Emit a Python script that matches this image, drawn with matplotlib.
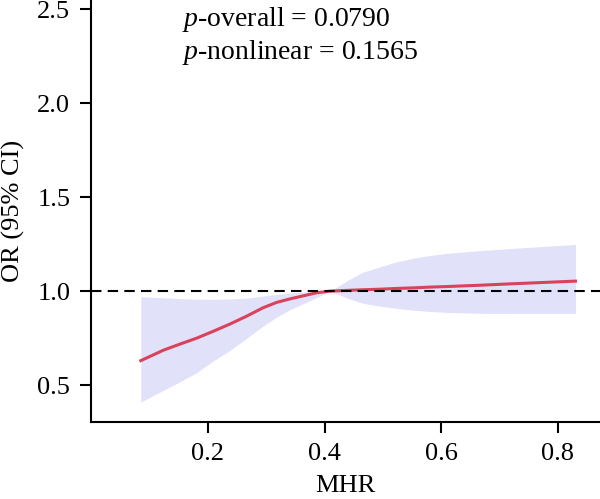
import matplotlib.pyplot as plt

plt.rcParams['font.family'] = 'Liberation Serif'
plt.rcParams['mathtext.fontset'] = 'custom'
plt.rcParams['mathtext.it'] = 'Liberation Serif:italic'
plt.rcParams['mathtext.rm'] = 'Liberation Serif'

# spline estimate
mhr = [0.085, 0.124, 0.152, 0.181, 0.209, 0.238, 0.266, 0.295, 0.318, 0.340, 0.386, 0.410,
       0.440, 0.465, 0.494, 0.523, 0.551, 0.579, 0.608, 0.665, 0.722, 0.830]
odds = [0.630, 0.686, 0.718, 0.750, 0.786, 0.825, 0.866, 0.912, 0.940, 0.958, 0.991, 1.000,
        1.004, 1.007, 1.010, 1.014, 1.017, 1.021, 1.024, 1.031, 1.039, 1.053]
lower = [0.410, 0.473, 0.518, 0.567, 0.628, 0.685, 0.748, 0.815, 0.862, 0.900, 0.965, 1.000,
         0.961, 0.936, 0.920, 0.908, 0.899, 0.892, 0.887, 0.882, 0.881, 0.881]
upper = [0.970, 0.964, 0.960, 0.957, 0.956, 0.958, 0.962, 0.974, 0.983, 0.990, 0.998, 1.000,
         1.058, 1.100, 1.128, 1.155, 1.174, 1.189, 1.200, 1.215, 1.227, 1.248]

xticks = [0.2, 0.4, 0.6, 0.8]
yticks = [0.5, 1.0, 1.5, 2.0, 2.5]
p_overall = '0.0790'
p_nonlinear = '0.1565'

fig = plt.figure(figsize=(6, 4.99), dpi=100)
ax = fig.add_axes([0.152, 0.154, 0.848, 0.846])

ax.fill_between(mhr, lower, upper, color='#e1e1fa', linewidth=0)
ax.plot(mhr, odds, color='#d9425a', linewidth=2.2)
ax.axhline(1.0, color='black', linestyle=(0, (5, 3)), linewidth=1.5)

ax.set_xlim(0.0, 0.872)
ax.set_ylim(0.303, 2.548)
ax.set_xticks(xticks)
ax.set_yticks(yticks)
ax.set_xticklabels([f'{t:.1f}' for t in xticks])
ax.set_yticklabels([f'{t:.1f}' for t in yticks])

for side in ['top', 'right']:
    ax.spines[side].set_visible(False)
for side in ['left', 'bottom']:
    ax.spines[side].set_linewidth(1.5)
ax.tick_params(direction='out', length=8, width=1.5, labelsize=19, pad=7)

ax.set_xlabel('MHR', fontsize=19, labelpad=7)
ax.set_ylabel('OR (95% CI)', fontsize=19, labelpad=9)

ax.text(0.156, 2.445, f'$p$-overall = {p_overall}', fontsize=20, va='center')
ax.text(0.156, 2.27, f'$p$-nonlinear = {p_nonlinear}', fontsize=20, va='center')

fig.savefig('out.png', dpi=100)
